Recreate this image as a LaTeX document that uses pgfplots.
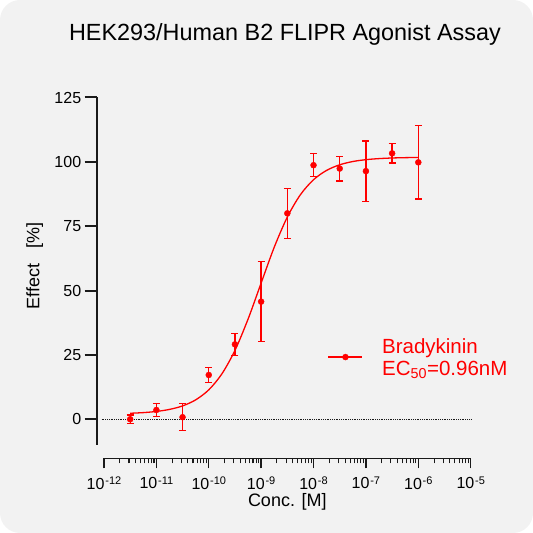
\documentclass[border=0pt]{standalone}
\usepackage{fontspec}
\setmainfont{Liberation Sans}
\usepackage{pgfplots}
\pgfplotsset{compat=1.18}
\definecolor{bg}{HTML}{F2F2F2}
\definecolor{ax}{HTML}{1A1A1A}
\definecolor{dred}{HTML}{FF0000}
\newcommand{\tenexp}[1]{10\kern0.8pt\raisebox{4.5pt}{\fontsize{11}{11}\selectfont #1}}
\begin{document}
\begin{tikzpicture}[x=1pt,y=1pt]
\fill[bg, rounded corners=20pt] (0,0) rectangle (533,533);
\node[anchor=base, inner sep=0pt, font=\fontsize{23.4}{28}\selectfont] at (285,492.3) {HEK293/Human B2 FLIPR Agonist Assay};
% main axis (data + y axis)
\begin{axis}[
  at={(96.7pt,88pt)}, anchor=south west, scale only axis,
  width=374pt, height=347.5pt,
  xmode=log, xmin=7.26e-13, xmax=1e-5, ymin=-10, ymax=125,
  axis x line=none, axis y line=left,
  axis line style={-, ax, line width=1.8pt},
  ytick={0,25,50,75,100,125},
  yticklabels={0,25,50,75,100,125},
  tick align=outside, major tick length=12pt,
  every tick/.style={ax, line width=2pt},
  yticklabel style={font=\fontsize{16}{19}\selectfont, text=black},
  ylabel={Effect\ \ \ [\%]},
  ylabel style={at={(axis description cs:-0.1535,0.515)}, anchor=base, font=\fontsize{18}{21}\selectfont},
  clip=false,
  legend style={draw=none, fill=none, at={(axis description cs:0.618,0.253)}, anchor=west,
    inner sep=0pt, outer sep=0pt, column sep=19pt,
    font=\fontsize{20.5}{22}\selectfont, text=dred, nodes={inner sep=0pt}},
  legend cell align=left,
]
\addplot[densely dotted, ax, line width=0.8pt, forget plot] coordinates {(9.0e-13,0) (1e-5,0)};
\addplot[dred, line width=1.3pt, smooth, no markers, forget plot] coordinates {
(3.162e-12,2.33) (5.623e-12,2.58) (1e-11,3.03) (1.778e-11,3.82) (3.162e-11,5.18)
(5.623e-11,7.53) (1e-10,11.42) (1.778e-10,17.61) (3.162e-10,26.74) (5.623e-10,38.88)
(1e-9,52.93) (1.778e-9,66.83) (3.162e-9,78.57) (5.623e-9,87.25) (1e-8,93.06)
(1.778e-8,96.69) (3.162e-8,98.86) (5.623e-8,100.13) (1e-7,100.85) (1.778e-7,101.26)
(3.162e-7,101.50) (5.623e-7,101.63) (1e-6,101.70)
};
\addplot[only marks, mark=*, mark size=3pt, dred,
  legend image code/.code={\draw[dred, line width=1.3pt] (0pt,0pt) -- (34pt,0pt); \fill[dred] (17pt,0pt) circle (3pt);},
  error bars/.cd, y dir=both, y explicit,
  error bar style={line width=1.3pt, dred},
  error mark options={rotate=90, mark size=3.5pt, line width=1.3pt, dred}]
coordinates {
(3.162e-12,0) +- (0,1.7)
(1e-11,3.6) +- (0,2.5)
(3.162e-11,0.8) +- (0,5.2)
(1e-10,17.2) +- (0,3.0)
(3.162e-10,29.1) +- (0,4.2)
(1e-9,45.7) +- (0,15.5)
(3.162e-9,80.0) +- (0,9.7)
(1e-8,98.7) +- (0,4.5)
(3.162e-8,97.4) +- (0,4.8)
(1e-7,96.4) +- (0,11.7)
(3.162e-7,103.3) +- (0,3.8)
(1e-6,99.8) +- (0,14.2)
};
\addlegendentry{\raisebox{10pt}{\begin{tabular}{@{}l@{}}Bradykinin\\EC\textsubscript{50}=0.96nM\end{tabular}}}
\end{axis}
% x axis
\begin{axis}[
  at={(104pt,74.7pt)}, anchor=south west, scale only axis,
  width=366.7pt, height=10pt,
  xmode=log, xmin=1e-12, xmax=1e-5, ymin=0, ymax=1,
  axis y line=none, axis x line=bottom,
  axis line style={-, ax, line width=1.6pt},
  tick align=outside, major tick length=10pt, minor tick length=5pt,
  xtick={1e-12,1e-11,1e-10,1e-9,1e-8,1e-7,1e-6,1e-5},
  minor xtick={2e-12,3e-12,4e-12,5e-12,6e-12,7e-12,8e-12,9e-12,
    2e-11,3e-11,4e-11,5e-11,6e-11,7e-11,8e-11,9e-11,
    2e-10,3e-10,4e-10,5e-10,6e-10,7e-10,8e-10,9e-10,
    2e-9,3e-9,4e-9,5e-9,6e-9,7e-9,8e-9,9e-9,
    2e-8,3e-8,4e-8,5e-8,6e-8,7e-8,8e-8,9e-8,
    2e-7,3e-7,4e-7,5e-7,6e-7,7e-7,8e-7,9e-7,
    2e-6,3e-6,4e-6,5e-6,6e-6,7e-6,8e-6,9e-6},
  xticklabels={\tenexp{-12},\tenexp{-11},\tenexp{-10},\tenexp{-9},\tenexp{-8},\tenexp{-7},\tenexp{-6},\tenexp{-5}},
  xticklabel style={font=\fontsize{16}{19}\selectfont, text=black, yshift=-5pt},
  major tick style={ax, line width=1.4pt},
  minor tick style={ax, line width=1.1pt},
  xlabel={Conc. [M]},
  xlabel style={at={(axis description cs:0.5,0)}, anchor=base, yshift=-48.5pt, font=\fontsize{18}{21}\selectfont},
  clip=false,
]
\addplot[draw=none, forget plot] coordinates {(1e-9,0.5)};
\end{axis}
\end{tikzpicture}
\end{document}
